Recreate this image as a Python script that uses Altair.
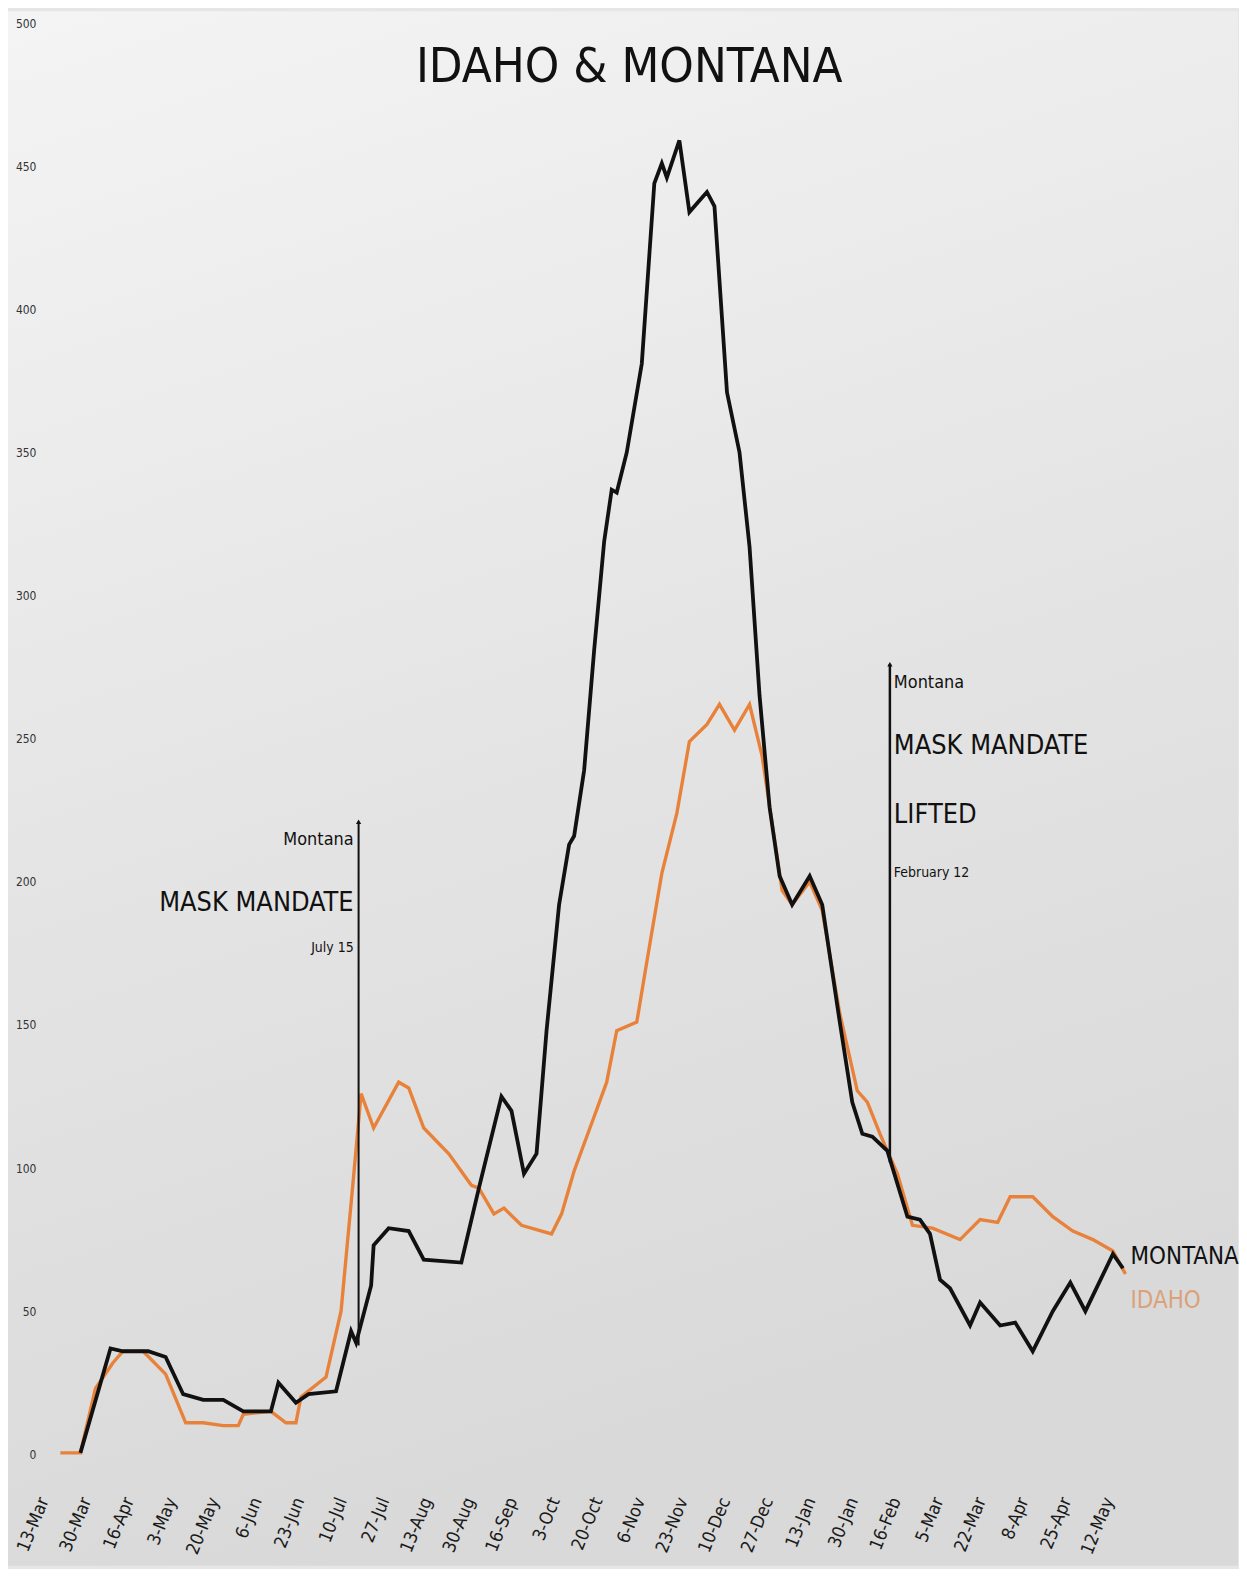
import altair as alt
import pandas as pd

START = pd.Timestamp("2020-03-13")

# Day offsets from 13-Mar-2020 and daily case values
montana_day = [13, 25, 30, 40, 47, 54, 62, 70, 78, 89, 92, 99, 104, 115, 121, 123, 129, 130, 136, 144,
               150, 165, 172, 181, 185, 190, 195, 199, 204, 208, 210, 214, 218, 222, 225, 227, 231, 237, 242, 245,
               247, 252, 256, 263, 266, 271, 276, 280, 284, 288, 292, 297, 304, 309, 316, 321, 325, 329, 335, 343,
               348, 352, 356, 360, 368, 372, 380, 386, 393, 401, 408, 414, 425, 429]
montana_cases = [0.5, 37, 36, 36, 34, 21, 19, 19, 15, 15, 25, 18, 21, 22, 43, 39, 59, 73, 79, 78,
                 68, 67, 93, 125, 120, 98, 105, 148, 192, 213, 216, 239, 281, 319, 337, 336, 350, 381, 444, 451,
                 446, 459, 434, 441, 436, 371, 350, 317, 265, 226, 202, 192, 202, 192, 151, 123, 112, 111, 106, 83,
                 82, 77, 61, 58, 45, 53, 45, 46, 36, 50, 60, 50, 70, 65]

idaho_day = [5, 13, 19, 26, 30, 38, 47, 55, 62, 70, 76, 78, 89, 95, 99, 101, 111, 117, 122, 125,
             130, 140, 144, 150, 160, 169, 172, 178, 182, 189, 201, 205, 210, 218, 223, 227, 235, 239, 245, 251,
             256, 263, 268, 274, 280, 285, 293, 297, 304, 309, 316, 323, 327, 332, 339, 345, 353, 364, 372, 379,
             384, 393, 401, 409, 417, 425, 430]
idaho_cases = [0.5, 0.5, 23, 32, 36, 36, 28, 11, 11, 10, 10, 14, 15, 11, 11, 20, 27, 50, 97, 126,
               114, 130, 128, 114, 105, 94, 93, 84, 86, 80, 77, 84, 99, 118, 130, 148, 151, 172, 203, 224,
               249, 255, 262, 253, 262, 244, 197, 192, 200, 190, 154, 127, 123, 112, 98, 80, 79, 75, 82, 81,
               90, 90, 83, 78, 75, 71, 63]

tick_step_days = 17
n_ticks = 26
y_ticks = list(range(0, 501, 50))

title_text = "IDAHO & MONTANA"
title_date = "2020-10-31"
title_level = 484.5

ann1_date = "2020-07-15"
ann1_text = ["Montana", "MASK MANDATE", "July 15"]
ann1_level = [214.5, 192.5, 177]
ann1_size = [18, 27, 14]

ann2_date = "2021-02-12"
ann2_text = ["Montana", "MASK MANDATE", "LIFTED", "February 12"]
ann2_level = [269.5, 247.5, 223.5, 203]
ann2_size = [18, 27, 27, 14]

rule_top = [221, 276]
rule_bottom = [38, 102]

end_labels = ["MONTANA", "IDAHO"]
end_levels = [69, 53.5]

FONT = "Liberation Sans Narrow, DejaVu Sans Condensed, Arial Narrow, Roboto Condensed, sans-serif"
ORANGE = "#e8823a"
BLACK = "#111111"

W, H = 1082, 1437


def to_dates(days):
    return [START + pd.Timedelta(days=int(d)) for d in days]


def dt(ts):
    ts = pd.Timestamp(ts)
    return alt.DateTime(year=ts.year, month=ts.month, date=ts.day)


tick_dates = [START + pd.Timedelta(days=tick_step_days * k) for k in range(n_ticks)]
end_date = START + pd.Timedelta(days=430)

idaho_df = pd.DataFrame({"date": to_dates(idaho_day), "cases": idaho_cases})
montana_df = pd.DataFrame({"date": to_dates(montana_day), "cases": montana_cases})

x_scale = alt.Scale(domain=[dt(START), dt(end_date)], nice=False)
y_scale = alt.Scale(domain=[0, 500], nice=False)

x_axis = alt.Axis(values=[dt(t) for t in tick_dates], format="%-d-%b", labelAngle=-68,
                  labelAlign="right", labelBaseline="middle", labelFontSize=18, labelPadding=44,
                  labelOffset=-4, labelFont=FONT, labelColor="#1a1a1a", ticks=False, domain=False,
                  grid=False, labelOverlap=False, labelFlush=False, labelBound=False, title=None, zindex=1)
y_axis = alt.Axis(values=y_ticks, labelFontSize=12, labelFont=FONT, labelColor="#333333",
                  labelPadding=12, ticks=False, domain=False, grid=False, labelFlush=False,
                  labelOverlap=False, title=None, zindex=1)

X = alt.X("date:T", scale=x_scale, axis=x_axis)
Y = alt.Y("cases:Q", scale=y_scale, axis=y_axis)

bg = alt.Chart(pd.DataFrame({"k": [0]})).mark_rect(
    color=alt.Gradient(gradient="linear",
                       stops=[alt.GradientStop(color="#f4f4f4", offset=0),
                              alt.GradientStop(color="#e4e4e4", offset=0.55),
                              alt.GradientStop(color="#d9d9d9", offset=1)],
                       x1=0, x2=0.25, y1=0, y2=1)
).encode(x=alt.value(-40), x2=alt.value(W + 113), y=alt.value(-12), y2=alt.value(H + 112))

idaho_line = alt.Chart(idaho_df).mark_line(color=ORANGE, strokeWidth=3.4).encode(x=X, y=Y)
montana_line = alt.Chart(montana_df).mark_line(color=BLACK, strokeWidth=3.8).encode(
    x=alt.X("date:T"), y=alt.Y("cases:Q"))

rules_df = pd.DataFrame({"date": [pd.Timestamp(ann1_date), pd.Timestamp(ann2_date)],
                         "cases": rule_top, "cases2": rule_bottom, "w": [2, 2.5]})
rules = alt.Chart(rules_df).mark_rule(color=BLACK).encode(
    x=alt.X("date:T"), y=alt.Y("cases:Q"), y2="cases2:Q",
    strokeWidth=alt.StrokeWidth("w:Q", scale=None))
arrows = alt.Chart(rules_df).mark_point(shape="triangle-up", filled=True, size=28, color=BLACK,
                                        opacity=1).encode(x=alt.X("date:T"), y=alt.Y("cases:Q"))

ann1_df = pd.DataFrame({"date": [pd.Timestamp(ann1_date)] * len(ann1_text), "cases": ann1_level,
                        "text": ann1_text, "fs": ann1_size})
ann2_df = pd.DataFrame({"date": [pd.Timestamp(ann2_date)] * len(ann2_text), "cases": ann2_level,
                        "text": ann2_text, "fs": ann2_size})
ann1 = alt.Chart(ann1_df).mark_text(align="right", baseline="middle", dx=-5, font=FONT,
                                    color=BLACK).encode(
    x=alt.X("date:T"), y=alt.Y("cases:Q"), text="text:N", size=alt.Size("fs:Q", scale=None))
ann2 = alt.Chart(ann2_df).mark_text(align="left", baseline="middle", dx=4, font=FONT,
                                    color=BLACK).encode(
    x=alt.X("date:T"), y=alt.Y("cases:Q"), text="text:N", size=alt.Size("fs:Q", scale=None))

end_df = pd.DataFrame({"date": [START + pd.Timedelta(days=432)] * 2, "cases": end_levels,
                       "text": end_labels, "c": [BLACK, "#d9a27a"]})
ends = alt.Chart(end_df).mark_text(align="left", baseline="middle", fontSize=24, font=FONT).encode(
    x=alt.X("date:T"), y=alt.Y("cases:Q"), text="text:N", color=alt.Color("c:N", scale=None))

title_df = pd.DataFrame({"date": [pd.Timestamp(title_date)], "cases": [title_level], "text": [title_text]})
title = alt.Chart(title_df).mark_text(align="center", baseline="middle", fontSize=49, font=FONT,
                                      color=BLACK).encode(
    x=alt.X("date:T"), y=alt.Y("cases:Q"), text="text:N")

chart = alt.layer(bg, idaho_line, montana_line, rules, arrows, ann1, ann2, ends, title).properties(
    width=W, height=H,
    padding={"left": 0, "top": 0, "right": 0, "bottom": 0},
).configure(background="#e6e6e6").configure_view(stroke=None)

chart.save("out.html", embed_options={"renderer": "svg", "actions": False})
